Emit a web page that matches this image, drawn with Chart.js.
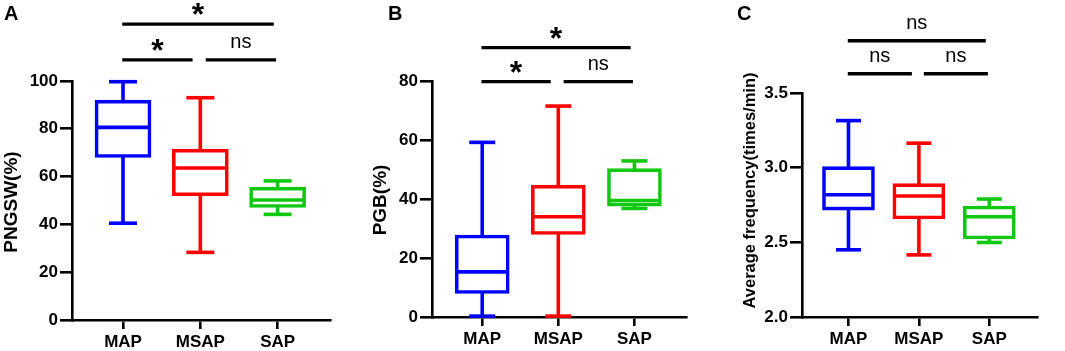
<!DOCTYPE html>
<html>
<head>
<meta charset="utf-8">
<script src="https://cdn.jsdelivr.net/npm/chart.js@4.4.1/dist/chart.umd.min.js"></script>
<style>
  html, body { margin: 0; padding: 0; background: #fff; }
  #wrap { position: relative; width: 1065px; height: 351px; }
  .panel { position: absolute; top: 0; height: 351px; }
</style>
</head>
<body>
<div id="wrap">
  <div class="panel" style="left:0;width:360px"><canvas id="chartA"></canvas></div>
  <div class="panel" style="left:360px;width:355px"><canvas id="chartB"></canvas></div>
  <div class="panel" style="left:715px;width:350px"><canvas id="chartC"></canvas></div>
</div>
<script>
// groups and colours
const groups = ["MAP", "MSAP", "SAP"];
const colors = ["#0000ff", "#ff0000", "#10c810"];

// A - PNGSW(%)
const pngswMin = [40.5, 28.3, 44.2];
const pngswQ1 = [68, 52, 47.1];
const pngswMed = [80.6, 63.6, 50.2];
const pngswQ3 = [92, 71.5, 55.6];
const pngswMax = [99.7, 93, 58.2];
const pngswTicks = [0, 20, 40, 60, 80, 100];
const pngswSig = [["MAP", "MSAP", "*"], ["MSAP", "SAP", "ns"], ["MAP", "SAP", "*"]];

// B - PGB(%)
const pgbMin = [0.3, 0.3, 36.8];
const pgbQ1 = [8, 28, 37.6];
const pgbMed = [15.3, 34, 39.5];
const pgbQ3 = [27.8, 44.7, 50.3];
const pgbMax = [59.2, 71.5, 52.9];
const pgbTicks = [0, 20, 40, 60, 80];
const pgbSig = [["MAP", "MSAP", "*"], ["MSAP", "SAP", "ns"], ["MAP", "SAP", "*"]];

// C - Average frequency(times/min)
const freqMin = [2.45, 2.416, 2.499];
const freqQ1 = [2.716, 2.656, 2.523];
const freqMed = [2.819, 2.81, 2.671];
const freqQ3 = [3.007, 2.893, 2.743];
const freqMax = [3.315, 3.164, 2.79];
const freqTicks = [2.0, 2.5, 3.0, 3.5];
const freqSig = [["MAP", "MSAP", "ns"], ["MSAP", "SAP", "ns"], ["MAP", "SAP", "ns"]];

const FONT = "'Liberation Sans', Arial, sans-serif";
Chart.defaults.font.family = FONT;
Chart.defaults.color = "#000";

// brackets, panel letter, y title
const decor = {
  id: "decor",
  afterDraw(chart) {
    const o = chart.options.plugins.decor;
    const ctx = chart.ctx;
    const xs = chart.scales.x, ys = chart.scales.y;
    ctx.save();
    ctx.fillStyle = "#000";
    ctx.strokeStyle = "#000";

    ctx.font = "bold 20px " + FONT;
    ctx.textAlign = "left";
    ctx.textBaseline = "alphabetic";
    ctx.fillText(o.letter, o.letterX, 20);

    ctx.save();
    ctx.translate(o.titleX, o.titleY);
    ctx.rotate(-Math.PI / 2);
    ctx.textAlign = "center";
    ctx.textBaseline = "middle";
    ctx.font = "bold " + o.titleSize + "px " + FONT;
    ctx.fillText(o.title, 0, 0);
    ctx.restore();

    ctx.lineWidth = 3.3;
    ctx.textAlign = "center";
    o.sig.forEach(s => {
      const a = groups.indexOf(s[0]) + 1, b = groups.indexOf(s[1]) + 1;
      let x1, x2, py;
      if (b - a > 1) {
        x1 = xs.getPixelForValue(a - 0.01);
        x2 = xs.getPixelForValue(b - 0.05);
        py = ys.getPixelForValue(o.levels[1]);
      } else {
        x1 = xs.getPixelForValue(a === 1 ? a - 0.01 : a + 0.07);
        x2 = xs.getPixelForValue(b === groups.length ? b - 0.02 : b - 0.1);
        py = ys.getPixelForValue(o.levels[0]);
      }
      ctx.beginPath();
      ctx.moveTo(x1, py);
      ctx.lineTo(x2, py);
      ctx.stroke();
      const cx = (x1 + x2) / 2, cy = py - 17;
      if (s[2] === "*") {
        ctx.font = "bold 32px " + FONT;
        ctx.fillText("*", cx, cy + 18);
      } else {
        ctx.font = "20px " + FONT;
        ctx.fillText(s[2], cx, cy + 5);
      }
    });
    ctx.restore();
  }
};

function boxChart(id, p) {
  const xs = groups.map((g, i) => i + 1);
  const lw = 3.6;
  const datasets = [];
  xs.forEach((x, i) => datasets.push({
    type: "line", order: 3,
    data: [{ x: x, y: p.min[i] }, { x: x, y: p.max[i] }],
    borderColor: colors[i], borderWidth: lw, pointRadius: 0, clip: false
  }));
  datasets.push({
    type: "bar", order: 2,
    data: xs.map((x, i) => ({ x: x, y: [p.q1[i], p.q3[i]] })),
    backgroundColor: "#fff", borderColor: colors, borderWidth: lw,
    borderSkipped: false, barThickness: p.boxW, clip: false
  });
  datasets.push({
    type: "scatter", order: 1,
    data: xs.map((x, i) => ({ x: x, y: p.med[i] })),
    pointStyle: "line", pointRadius: (p.boxW - lw) / 2, pointBorderWidth: lw,
    pointBorderColor: colors, clip: false
  });
  datasets.push({
    type: "scatter", order: 1,
    data: xs.map((x, i) => ({ x: x, y: p.min[i] })).concat(xs.map((x, i) => ({ x: x, y: p.max[i] }))),
    pointStyle: "line", pointRadius: p.capR, pointBorderWidth: lw,
    pointBorderColor: colors.concat(colors), clip: false
  });

  return new Chart(document.getElementById(id), {
    type: "bar",
    data: { datasets: datasets },
    options: {
      responsive: true,
      maintainAspectRatio: false,
      devicePixelRatio: 1,
      animation: false,
      events: [],
      layout: { padding: p.pad },
      plugins: {
        legend: { display: false },
        tooltip: { enabled: false },
        decor: p.decor
      },
      scales: {
        x: {
          type: "linear", offset: false, min: 0.34, max: 3.68,
          afterBuildTicks: s => { s.ticks = xs.map(v => ({ value: v })); },
          afterFit: s => { s.height = p.xH; },
          ticks: {
            callback: v => groups[v - 1],
            font: { size: 17, weight: "bold" }, padding: 3, maxRotation: 0
          },
          grid: { offset: false, drawOnChartArea: false, drawTicks: true, tickLength: 9, color: "#000", lineWidth: 2.6 },
          border: { display: true, color: "#000", width: 2.6 }
        },
        y: {
          type: "linear", min: p.ticks[0], max: p.ticks[p.ticks.length - 1],
          afterBuildTicks: s => { s.ticks = p.ticks.map(v => ({ value: v })); },
          afterFit: s => { s.width = p.yW; },
          ticks: {
            callback: v => p.fmt(v),
            font: { size: 17, weight: "bold" }, padding: 2
          },
          grid: { drawOnChartArea: false, drawTicks: true, tickLength: 12, color: "#000", lineWidth: 2.6 },
          border: { display: true, color: "#000", width: 2.6 }
        }
      }
    },
    plugins: [decor]
  });
}

boxChart("chartA", {
  min: pngswMin, q1: pngswQ1, med: pngswMed, q3: pngswQ3, max: pngswMax,
  ticks: pngswTicks, fmt: v => String(v),
  boxW: 56, capR: 14, yW: 72, xH: 31,
  pad: { left: 0, right: 8, top: 81, bottom: 0 },
  decor: { letter: "A", letterX: 4, title: "PNGSW(%)", titleSize: 19, titleX: 12, titleY: 202,
           levels: [108.8, 123.8], sig: pngswSig }
});

boxChart("chartB", {
  min: pgbMin, q1: pgbQ1, med: pgbMed, q3: pgbQ3, max: pgbMax,
  ticks: pgbTicks, fmt: v => String(v),
  boxW: 54, capR: 13, yW: 72, xH: 34,
  pad: { left: 0, right: 7, top: 81, bottom: 0 },
  decor: { letter: "B", letterX: 28, title: "PGB(%)", titleSize: 19, titleX: 20.5, titleY: 200,
           levels: [79.8, 91.3], sig: pgbSig }
});

boxChart("chartC", {
  min: freqMin, q1: freqQ1, med: freqMed, q3: freqQ3, max: freqMax,
  ticks: freqTicks, fmt: v => v.toFixed(1),
  boxW: 52, capR: 12.5, yW: 87, xH: 34,
  pad: { left: 0, right: 2, top: 93, bottom: 0 },
  decor: { letter: "C", letterX: 22, title: "Average frequency(times/min)", titleSize: 16.5, titleX: 35.5, titleY: 190.5,
           levels: [3.629, 3.85], sig: freqSig }
});
</script>
</body>
</html>
